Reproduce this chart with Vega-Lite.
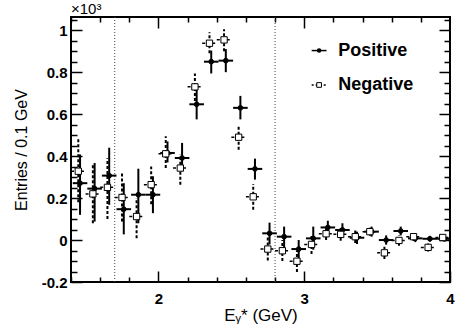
{
  "$schema": "https://vega.github.io/schema/vega-lite/v6.json",
  "width": 379,
  "height": 265,
  "autosize": {"type": "none"},
  "padding": {"left": 71, "top": 17, "right": 24, "bottom": 51},
  "background": "white",
  "config": {
    "font": "Liberation Sans",
    "view": {"stroke": "black", "strokeWidth": 2},
    "axis": {"grid": false, "domain": false, "tickColor": "black", "tickWidth": 1.5, "labelColor": "black", "titleColor": "black", "labelFont": "Liberation Sans", "titleFont": "Liberation Sans", "labelFlush": false, "labelOverlap": false}
  },
  "datasets": {
    "vl": [{"E": 1.7}, {"E": 2.8}],
    "pts": [
      {"s": "Positive", "x": 1.462, "y": 0.271, "lo": 0.12, "hi": 0.408, "xlo": 1.412, "xhi": 1.512},
      {"s": "Positive", "x": 1.562, "y": 0.245, "lo": 0.088, "hi": 0.367, "xlo": 1.512, "xhi": 1.612},
      {"s": "Positive", "x": 1.662, "y": 0.307, "lo": 0.168, "hi": 0.44, "xlo": 1.612, "xhi": 1.712},
      {"s": "Positive", "x": 1.762, "y": 0.147, "lo": 0.027, "hi": 0.271, "xlo": 1.712, "xhi": 1.812},
      {"s": "Positive", "x": 1.862, "y": 0.216, "lo": 0.08, "hi": 0.34, "xlo": 1.812, "xhi": 1.912},
      {"s": "Positive", "x": 1.962, "y": 0.216, "lo": 0.128, "hi": 0.304, "xlo": 1.912, "xhi": 2.012},
      {"s": "Positive", "x": 2.062, "y": 0.415, "lo": 0.37, "hi": 0.47, "xlo": 2.012, "xhi": 2.112},
      {"s": "Positive", "x": 2.162, "y": 0.391, "lo": 0.328, "hi": 0.463, "xlo": 2.112, "xhi": 2.212},
      {"s": "Positive", "x": 2.262, "y": 0.647, "lo": 0.575, "hi": 0.72, "xlo": 2.212, "xhi": 2.312},
      {"s": "Positive", "x": 2.362, "y": 0.85, "lo": 0.794, "hi": 0.903, "xlo": 2.312, "xhi": 2.412},
      {"s": "Positive", "x": 2.462, "y": 0.855, "lo": 0.8, "hi": 0.91, "xlo": 2.412, "xhi": 2.512},
      {"s": "Positive", "x": 2.562, "y": 0.63, "lo": 0.575, "hi": 0.687, "xlo": 2.512, "xhi": 2.612},
      {"s": "Positive", "x": 2.662, "y": 0.339, "lo": 0.288, "hi": 0.388, "xlo": 2.612, "xhi": 2.712},
      {"s": "Positive", "x": 2.762, "y": 0.032, "lo": -0.021, "hi": 0.083, "xlo": 2.712, "xhi": 2.812},
      {"s": "Positive", "x": 2.862, "y": 0.016, "lo": -0.035, "hi": 0.064, "xlo": 2.812, "xhi": 2.912},
      {"s": "Positive", "x": 2.962, "y": -0.043, "lo": -0.088, "hi": 0.0, "xlo": 2.912, "xhi": 3.012},
      {"s": "Positive", "x": 3.062, "y": 0.008, "lo": -0.046, "hi": 0.064, "xlo": 3.012, "xhi": 3.112},
      {"s": "Positive", "x": 3.162, "y": 0.06, "lo": 0.024, "hi": 0.092, "xlo": 3.112, "xhi": 3.212},
      {"s": "Positive", "x": 3.262, "y": 0.048, "lo": 0.016, "hi": 0.08, "xlo": 3.212, "xhi": 3.312},
      {"s": "Positive", "x": 3.362, "y": 0.011, "lo": -0.019, "hi": 0.04, "xlo": 3.312, "xhi": 3.412},
      {"s": "Positive", "x": 3.462, "y": 0.04, "lo": 0.016, "hi": 0.064, "xlo": 3.412, "xhi": 3.512},
      {"s": "Positive", "x": 3.562, "y": 0.0, "lo": -0.022, "hi": 0.022, "xlo": 3.512, "xhi": 3.612},
      {"s": "Positive", "x": 3.662, "y": 0.043, "lo": 0.022, "hi": 0.064, "xlo": 3.612, "xhi": 3.712},
      {"s": "Positive", "x": 3.762, "y": 0.008, "lo": -0.01, "hi": 0.026, "xlo": 3.712, "xhi": 3.812},
      {"s": "Positive", "x": 3.862, "y": 0.006, "lo": -0.008, "hi": 0.02, "xlo": 3.812, "xhi": 3.912},
      {"s": "Positive", "x": 3.962, "y": 0.006, "lo": -0.006, "hi": 0.018, "xlo": 3.912, "xhi": 4.0},
      {"s": "Negative", "x": 1.45, "y": 0.328, "lo": 0.18, "hi": 0.49, "xlo": 1.4, "xhi": 1.5},
      {"s": "Negative", "x": 1.55, "y": 0.22, "lo": 0.08, "hi": 0.36, "xlo": 1.5, "xhi": 1.6},
      {"s": "Negative", "x": 1.65, "y": 0.251, "lo": 0.1, "hi": 0.39, "xlo": 1.6, "xhi": 1.7},
      {"s": "Negative", "x": 1.75, "y": 0.203, "lo": 0.088, "hi": 0.32, "xlo": 1.7, "xhi": 1.8},
      {"s": "Negative", "x": 1.85, "y": 0.112, "lo": 0.008, "hi": 0.2, "xlo": 1.8, "xhi": 1.9},
      {"s": "Negative", "x": 1.95, "y": 0.264, "lo": 0.17, "hi": 0.35, "xlo": 1.9, "xhi": 2.0},
      {"s": "Negative", "x": 2.05, "y": 0.411, "lo": 0.343, "hi": 0.495, "xlo": 2.0, "xhi": 2.1},
      {"s": "Negative", "x": 2.15, "y": 0.343, "lo": 0.264, "hi": 0.408, "xlo": 2.1, "xhi": 2.2},
      {"s": "Negative", "x": 2.25, "y": 0.73, "lo": 0.663, "hi": 0.794, "xlo": 2.2, "xhi": 2.3},
      {"s": "Negative", "x": 2.35, "y": 0.938, "lo": 0.89, "hi": 0.99, "xlo": 2.3, "xhi": 2.4},
      {"s": "Negative", "x": 2.45, "y": 0.954, "lo": 0.9, "hi": 1.005, "xlo": 2.4, "xhi": 2.5},
      {"s": "Negative", "x": 2.55, "y": 0.49, "lo": 0.43, "hi": 0.55, "xlo": 2.5, "xhi": 2.6},
      {"s": "Negative", "x": 2.65, "y": 0.206, "lo": 0.144, "hi": 0.267, "xlo": 2.6, "xhi": 2.7},
      {"s": "Negative", "x": 2.75, "y": -0.043, "lo": -0.098, "hi": 0.012, "xlo": 2.7, "xhi": 2.8},
      {"s": "Negative", "x": 2.85, "y": -0.051, "lo": -0.1, "hi": 0.0, "xlo": 2.8, "xhi": 2.9},
      {"s": "Negative", "x": 2.95, "y": -0.101, "lo": -0.152, "hi": -0.05, "xlo": 2.9, "xhi": 3.0},
      {"s": "Negative", "x": 3.05, "y": -0.021, "lo": -0.066, "hi": 0.024, "xlo": 3.0, "xhi": 3.1},
      {"s": "Negative", "x": 3.15, "y": 0.03, "lo": 0.0, "hi": 0.06, "xlo": 3.1, "xhi": 3.2},
      {"s": "Negative", "x": 3.25, "y": 0.027, "lo": -0.003, "hi": 0.057, "xlo": 3.2, "xhi": 3.3},
      {"s": "Negative", "x": 3.35, "y": 0.016, "lo": -0.014, "hi": 0.046, "xlo": 3.3, "xhi": 3.4},
      {"s": "Negative", "x": 3.45, "y": 0.04, "lo": 0.02, "hi": 0.06, "xlo": 3.4, "xhi": 3.5},
      {"s": "Negative", "x": 3.55, "y": -0.061, "lo": -0.09, "hi": -0.032, "xlo": 3.5, "xhi": 3.6},
      {"s": "Negative", "x": 3.65, "y": -0.002, "lo": -0.027, "hi": 0.023, "xlo": 3.6, "xhi": 3.7},
      {"s": "Negative", "x": 3.75, "y": 0.016, "lo": -0.004, "hi": 0.036, "xlo": 3.7, "xhi": 3.8},
      {"s": "Negative", "x": 3.85, "y": -0.035, "lo": -0.055, "hi": -0.015, "xlo": 3.8, "xhi": 3.9},
      {"s": "Negative", "x": 3.95, "y": 0.012, "lo": 0.002, "hi": 0.022, "xlo": 3.9, "xhi": 4.0}
    ]
  },
  "layer": [
    {
      "data": {"name": "vl"},
      "mark": {"type": "rule", "strokeDash": [1, 2], "color": "#444444", "strokeWidth": 1},
      "encoding": {
        "x": {"field": "E", "type": "quantitative", "scale": {"domain": [1.4, 4.0], "nice": false, "zero": false},
          "axis": {"orient": "bottom", "values": [2, 3, 4], "tickSize": -11, "labelPadding": 20, "labelFontSize": 15, "labelFontWeight": "bold", "title": "Eᵧ* (GeV)", "titleFontSize": 17, "titleFontWeight": "normal", "titlePadding": 1}}
      }
    },
    {
      "data": {"name": "pts"},
      "transform": [{"filter": "datum.s === 'Negative'"}],
      "mark": {"type": "rule", "strokeDash": [3, 2], "strokeWidth": 2, "color": "black"},
      "encoding": {
        "x": {"field": "x", "type": "quantitative", "scale": {"domain": [1.4, 4.0], "nice": false, "zero": false},
          "axis": {"orient": "bottom", "values": [1.4, 1.6, 1.8, 2.2, 2.4, 2.6, 2.8, 3.2, 3.4, 3.6, 3.8], "tickSize": -5, "labels": false, "title": null}},
        "y": {"field": "lo", "type": "quantitative", "scale": {"domain": [-0.2, 1.063], "nice": false, "zero": false},
          "axis": {"orient": "left", "values": [-0.2, 0, 0.2, 0.4, 0.6, 0.8, 1], "tickSize": -11, "labelPadding": 15, "labelFontSize": 15, "labelFontWeight": "bold", "labelExpr": "'' + datum.value", "title": "Entries / 0.1 GeV", "titleFontSize": 16, "titleFontWeight": "normal", "titlePadding": 12}},
        "y2": {"field": "hi"}
      }
    },
    {
      "data": {"name": "pts"},
      "transform": [{"filter": "datum.s === 'Negative'"}],
      "mark": {"type": "rule", "strokeDash": [3, 2], "strokeWidth": 1.5, "color": "black"},
      "encoding": {
        "x": {"field": "xlo", "type": "quantitative", "scale": {"domain": [1.4, 4.0], "nice": false, "zero": false},
          "axis": {"orient": "top", "values": [2, 3], "tickSize": -11, "labels": false, "title": null}},
        "x2": {"field": "xhi"},
        "y": {"field": "y", "type": "quantitative", "scale": {"domain": [-0.2, 1.063], "nice": false, "zero": false},
          "axis": {"orient": "left", "values": [-0.15, -0.1, -0.05, 0.05, 0.1, 0.15, 0.25, 0.3, 0.35, 0.45, 0.5, 0.55, 0.65, 0.7, 0.75, 0.85, 0.9, 0.95, 1.05], "tickSize": -6, "labels": false, "title": null}}
      }
    },
    {
      "data": {"name": "pts"},
      "transform": [{"filter": "datum.s === 'Positive'"}],
      "mark": {"type": "rule", "strokeWidth": 2, "color": "black"},
      "encoding": {
        "x": {"field": "x", "type": "quantitative", "scale": {"domain": [1.4, 4.0], "nice": false, "zero": false},
          "axis": {"orient": "top", "values": [1.4, 1.6, 1.8, 2.2, 2.4, 2.6, 2.8, 3.2, 3.4, 3.6, 3.8], "tickSize": -5, "labels": false, "title": null}},
        "y": {"field": "lo", "type": "quantitative", "scale": {"domain": [-0.2, 1.063], "nice": false, "zero": false},
          "axis": {"orient": "right", "values": [-0.2, 0, 0.2, 0.4, 0.6, 0.8, 1], "tickSize": -11, "labels": false, "title": null}},
        "y2": {"field": "hi"}
      }
    },
    {
      "data": {"name": "pts"},
      "transform": [{"filter": "datum.s === 'Positive'"}],
      "mark": {"type": "rule", "strokeWidth": 2, "color": "black"},
      "encoding": {
        "x": {"field": "xlo", "type": "quantitative", "scale": {"domain": [1.4, 4.0], "nice": false, "zero": false}, "axis": null},
        "x2": {"field": "xhi"},
        "y": {"field": "y", "type": "quantitative", "scale": {"domain": [-0.2, 1.063], "nice": false, "zero": false},
          "axis": {"orient": "right", "values": [-0.15, -0.1, -0.05, 0.05, 0.1, 0.15, 0.25, 0.3, 0.35, 0.45, 0.5, 0.55, 0.65, 0.7, 0.75, 0.85, 0.9, 0.95, 1.05], "tickSize": -6, "labels": false, "title": null}}
      }
    },
    {
      "data": {"name": "pts"},
      "mark": {"type": "point", "filled": false, "stroke": "black", "strokeWidth": 1, "opacity": 1, "fillOpacity": 1},
      "encoding": {
        "x": {"field": "x", "type": "quantitative", "scale": {"domain": [1.4, 4.0], "nice": false, "zero": false}, "axis": null},
        "y": {"field": "y", "type": "quantitative", "scale": {"domain": [-0.2, 1.063], "nice": false, "zero": false}, "axis": null},
        "shape": {"condition": {"test": "datum.s === 'Positive'", "value": "circle"}, "value": "square"},
        "fill": {"condition": {"test": "datum.s === 'Positive'", "value": "black"}, "value": "white"},
        "size": {"condition": {"test": "datum.s === 'Positive'", "value": 22}, "value": 40}
      }
    },
    {
      "data": {"values": [{"s": "Positive"}]},
      "mark": {"type": "rule", "strokeWidth": 1.5, "color": "black"},
      "encoding": {
        "x": {"datum": 3.051, "type": "quantitative", "scale": {"domain": [1.4, 4.0], "nice": false, "zero": false}, "axis": null},
        "x2": {"datum": 3.153},
        "y": {"datum": 0.903, "type": "quantitative", "scale": {"domain": [-0.2, 1.063], "nice": false, "zero": false}, "axis": null}
      }
    },
    {
      "data": {"values": [{"s": "Positive"}]},
      "mark": {"type": "point", "filled": true, "color": "black", "size": 20, "opacity": 1},
      "encoding": {
        "x": {"datum": 3.102, "type": "quantitative", "scale": {"domain": [1.4, 4.0], "nice": false, "zero": false}, "axis": null},
        "y": {"datum": 0.903, "type": "quantitative", "scale": {"domain": [-0.2, 1.063], "nice": false, "zero": false}, "axis": null}
      }
    },
    {
      "data": {"values": [{"s": "Negative"}]},
      "mark": {"type": "rule", "strokeWidth": 1.5, "color": "black", "strokeDash": [2, 2]},
      "encoding": {
        "x": {"datum": 3.051, "type": "quantitative", "scale": {"domain": [1.4, 4.0], "nice": false, "zero": false}, "axis": null},
        "x2": {"datum": 3.153},
        "y": {"datum": 0.739, "type": "quantitative", "scale": {"domain": [-0.2, 1.063], "nice": false, "zero": false}, "axis": null}
      }
    },
    {
      "data": {"values": [{"s": "Negative"}]},
      "mark": {"type": "point", "shape": "square", "filled": false, "fill": "white", "fillOpacity": 1, "stroke": "black", "strokeWidth": 1, "size": 22, "opacity": 1},
      "encoding": {
        "x": {"datum": 3.102, "type": "quantitative", "scale": {"domain": [1.4, 4.0], "nice": false, "zero": false}, "axis": null},
        "y": {"datum": 0.739, "type": "quantitative", "scale": {"domain": [-0.2, 1.063], "nice": false, "zero": false}, "axis": null}
      }
    },
    {
      "data": {"values": [{"s": "Positive"}]},
      "mark": {"type": "text", "align": "left", "baseline": "middle", "fontSize": 18, "fontWeight": "bold", "font": "Liberation Sans", "color": "black"},
      "encoding": {
        "x": {"datum": 3.233, "type": "quantitative", "scale": {"domain": [1.4, 4.0], "nice": false, "zero": false}, "axis": null},
        "y": {"datum": 0.903, "type": "quantitative", "scale": {"domain": [-0.2, 1.063], "nice": false, "zero": false}, "axis": null},
        "text": {"field": "s"}
      }
    },
    {
      "data": {"values": [{"s": "Negative"}]},
      "mark": {"type": "text", "align": "left", "baseline": "middle", "fontSize": 18, "fontWeight": "bold", "font": "Liberation Sans", "color": "black"},
      "encoding": {
        "x": {"datum": 3.233, "type": "quantitative", "scale": {"domain": [1.4, 4.0], "nice": false, "zero": false}, "axis": null},
        "y": {"datum": 0.739, "type": "quantitative", "scale": {"domain": [-0.2, 1.063], "nice": false, "zero": false}, "axis": null},
        "text": {"field": "s"}
      }
    },
    {
      "data": {"values": [{"t": "×10³"}]},
      "mark": {"type": "text", "align": "left", "baseline": "alphabetic", "fontSize": 15, "font": "Liberation Sans", "color": "black", "dy": -3, "clip": false},
      "encoding": {
        "x": {"datum": 1.4, "type": "quantitative", "scale": {"domain": [1.4, 4.0], "nice": false, "zero": false}, "axis": null},
        "y": {"datum": 1.063, "type": "quantitative", "scale": {"domain": [-0.2, 1.063], "nice": false, "zero": false}, "axis": null},
        "text": {"field": "t"}
      }
    }
  ],
  "resolve": {"axis": {"x": "independent", "y": "independent"}}
}
